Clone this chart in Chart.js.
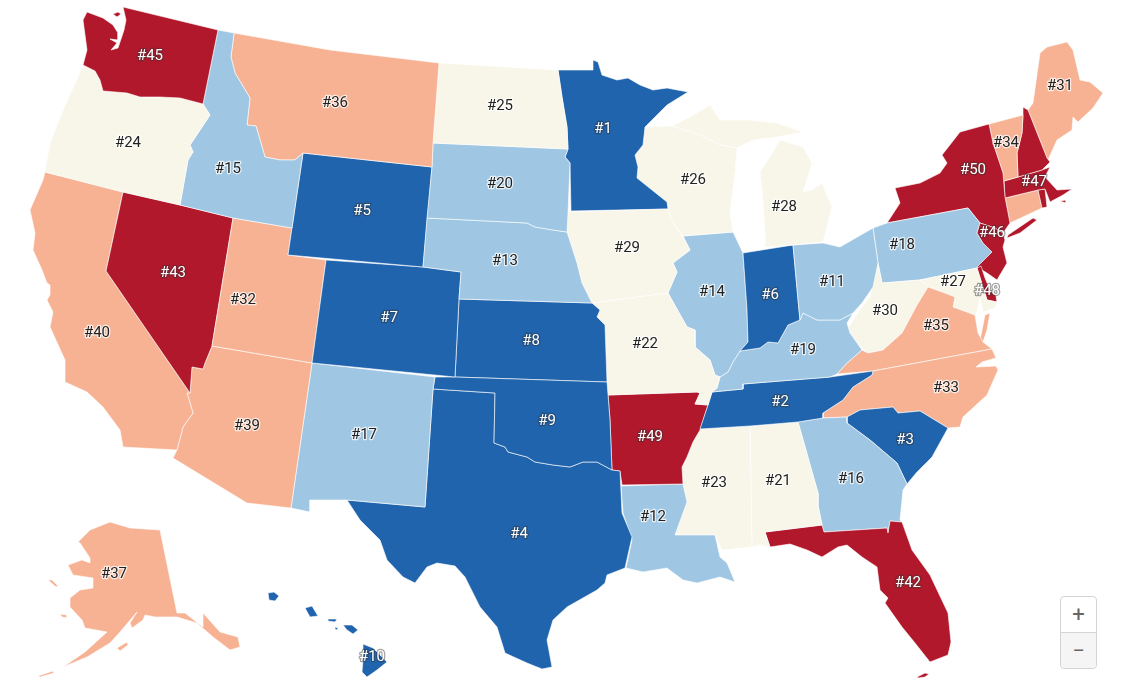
<!DOCTYPE html>
<html>
<head>
<meta charset="utf-8">
<title>US states ranking map</title>
<script src="https://cdn.jsdelivr.net/npm/chart.js@4"></script>
<style>
  html, body { margin: 0; padding: 0; background: #fff; }
  #wrap { position: relative; width: 1126px; height: 688px; overflow: hidden; }
  #zoom-box {
    position: absolute; left: 1060px; top: 596px; width: 35px; height: 71px;
    border: 1px solid #d4d4d4; border-radius: 4px; background: #fff;
    font-family: Roboto, sans-serif; color: #666; text-align: center;
  }
  #zoom-box div { height: 35px; line-height: 35px; font-size: 22px; }
  #zoom-box .minus { background: #f5f5f5; border-top: 1px solid #d4d4d4; border-radius: 0 0 4px 4px; }
</style>
</head>
<body>
<div id="wrap">
  <canvas id="mapChart" width="1126" height="688"></canvas>
  <div id="zoom-box"><div>+</div><div class="minus">−</div></div>
</div>
<script>
// outlines in the map's own units
const WA = [[[87,12],[103,18],[113,25],[118,33],[118,40],[110,39],[117,43],[111,50],[118,48],[124,30],[126,20],[123,7],[218,30],[203,104],[180,98],[160,97],[140,97],[127,93],[103,91],[100,80],[95,71],[83,65],[87,50],[83,20]],
  [[113,14],[118,12],[121,14],[117,17]]];
const OR = [[[83,66],[95,71],[100,80],[103,91],[127,93],[140,97],[160,97],[180,98],[203,104],[210,115],[190,145],[193,152],[188,160],[180,205],[123,192],[45,172],[50,143],[63,110]]];
const ID = [[[218,30],[234,33],[231,57],[235,73],[250,98],[247,125],[256,126],[265,157],[280,160],[295,160],[303,153],[292,228],[233,218],[180,205],[188,160],[193,152],[190,145],[210,115],[203,104]]];
const MT = [[[234,33],[330,50],[439,63],[433,143],[432,167],[303,153],[295,160],[280,160],[265,157],[256,126],[247,125],[250,98],[235,73],[231,57]]];
const ND = [[[439,63],[558,70],[562,97],[567,127],[568,149],[433,143]]];
const SD = [[[433,143],[568,149],[565,157],[570,163],[568,213],[567,232],[553,230],[535,227],[527,223],[427,218],[432,167]]];
const NE = [[[427,218],[527,223],[535,227],[553,230],[567,232],[577,263],[582,283],[592,303],[459,299],[461,272],[423,267]]];
const WY = [[[303,153],[432,167],[423,267],[288,255]]];
const CO = [[[326,260],[423,267],[461,272],[459,299],[455,377],[312,363]]];
const UT = [[[233,218],[292,228],[288,255],[326,260],[312,363],[212,346]]];
const NV = [[[123,192],[180,205],[233,218],[212,346],[205,363],[203,369],[192,367],[190,393],[106,271]]];
const CA = [[[45,172],[123,192],[106,271],[190,393],[187,393],[193,413],[183,427],[177,450],[123,447],[120,430],[103,407],[87,392],[65,382],[65,360],[50,327],[53,312],[47,300],[50,295],[50,285],[47,283],[42,270],[33,250],[35,233],[30,210],[43,180]]];
const AZ = [[[212,346],[312,363],[291,508],[247,503],[173,458],[177,450],[183,427],[193,413],[187,393],[190,393],[192,367],[203,369],[205,363]]];
const NM = [[[312,363],[435,377],[433,389],[425,507],[347,500],[310,500],[310,512],[291,508]]];
const OK = [[[435,377],[455,377],[607,382],[610,420],[612,470],[597,462],[583,462],[570,467],[553,465],[535,462],[527,457],[508,452],[505,447],[494,443],[495,393],[433,389]]];
const TX = [[[433,389],[495,393],[494,443],[505,447],[508,452],[527,457],[535,462],[553,465],[570,467],[583,462],[597,462],[612,470],[620,471],[622,513],[632,537],[625,568],[607,575],[605,583],[597,590],[567,607],[553,620],[547,640],[552,667],[542,669],[527,663],[505,653],[497,627],[480,607],[465,577],[455,566],[437,563],[427,567],[415,583],[403,577],[387,560],[380,540],[360,520],[347,500],[425,507]]];
const KS = [[[459,299],[592,303],[600,310],[597,317],[605,325],[607,382],[455,377]]];
const MO = [[[592,303],[668,293],[687,327],[695,330],[695,347],[710,360],[715,375],[720,377],[717,388],[712,392],[708,405],[695,404],[700,393],[697,392],[608,395],[607,382],[605,325],[597,317],[600,310]]];
const IA = [[[568,212],[668,209],[672,222],[683,237],[690,250],[673,263],[677,272],[668,293],[592,303],[582,283],[577,263],[567,232]]];
const MN = [[[558,70],[593,70],[593,60],[598,62],[602,75],[617,80],[628,78],[640,85],[653,90],[667,88],[688,92],[667,105],[645,127],[643,145],[635,155],[638,167],[637,178],[652,190],[667,202],[668,209],[571,211],[570,163],[565,157],[568,149],[567,127],[562,97]]];
const WI = [[[645,127],[672,126],[700,135],[720,145],[737,148],[735,173],[730,213],[733,232],[683,236],[672,222],[668,209],[667,202],[652,190],[637,178],[638,167],[635,155],[643,145]]];
const MI = [[[765,247],[793,245],[823,242],[832,207],[822,183],[812,190],[803,192],[812,163],[803,147],[780,140],[768,160],[760,172],[763,200],[765,235]],
  [[672,126],[690,117],[710,105],[720,120],[750,120],[777,123],[803,132],[777,137],[753,140],[737,148],[720,145],[700,135]]];
const OH = [[[793,245],[823,243],[840,247],[873,228],[878,263],[873,287],[862,303],[853,313],[840,320],[817,320],[803,313],[800,320],[799,310]]];
const IN = [[[743,253],[793,245],[799,310],[800,320],[788,325],[778,343],[768,342],[760,348],[740,351],[748,342],[747,310]]];
const IL = [[[683,236],[733,232],[743,253],[747,310],[748,342],[740,351],[733,362],[728,372],[720,377],[715,375],[710,360],[695,347],[695,330],[687,327],[668,293],[677,272],[673,263],[690,250]]];
const KY = [[[717,388],[720,377],[728,372],[733,362],[740,351],[760,348],[768,342],[778,343],[788,325],[800,320],[803,313],[817,320],[840,320],[853,313],[847,323],[850,333],[862,350],[847,363],[837,374],[830,377],[743,384],[743,389],[712,392]]];
const TN = [[[712,392],[743,389],[743,384],[830,377],[873,371],[872,375],[853,387],[843,400],[823,413],[823,418],[798,422],[750,426],[700,429],[708,405]]];
const AR = [[[608,395],[697,392],[700,393],[695,404],[708,405],[700,430],[693,442],[687,457],[682,467],[683,484],[622,485],[620,471],[612,470],[610,420]]];
const LA = [[[621,486],[683,484],[687,502],[675,535],[715,535],[720,557],[727,563],[735,582],[720,577],[697,583],[683,580],[667,568],[643,572],[626,568],[632,540],[623,513]]];
const MS = [[[700,429],[750,426],[752,547],[722,550],[715,535],[675,535],[687,502],[683,484],[682,467],[687,457],[693,442]]];
const AL = [[[750,426],[798,422],[818,493],[818,505],[822,525],[765,532],[770,547],[760,545],[752,547]]];
const FL = [[[765,532],[822,525],[824,532],[887,528],[888,533],[890,521],[902,522],[912,550],[930,575],[948,613],[951,642],[948,655],[930,662],[915,643],[902,627],[885,603],[888,598],[880,590],[877,567],[862,557],[847,545],[838,547],[822,557],[807,550],[790,544],[770,547]],
  [[917,677],[925,673],[929,674],[925,677],[918,678]]];
const GA = [[[798,422],[823,418],[847,417],[847,423],[870,440],[897,463],[907,484],[903,490],[900,520],[902,522],[890,521],[888,533],[887,528],[824,532],[822,525],[818,505],[818,493]]];
const SC = [[[847,423],[847,417],[860,410],[893,407],[898,413],[920,411],[948,428],[932,457],[917,472],[907,484],[897,463],[870,440]]];
const NC = [[[873,371],[992,349],[996,358],[982,362],[976,367],[996,366],[998,370],[987,395],[963,417],[960,427],[948,428],[920,411],[898,413],[893,407],[860,410],[847,417],[823,418],[823,413],[843,400],[853,387],[872,375]]];
const VA = [[[837,374],[847,363],[862,350],[868,353],[883,350],[902,333],[917,305],[928,287],[945,293],[955,297],[953,307],[975,315],[978,333],[983,342],[992,349],[873,371]],
  [[985,315],[990,313],[987,330],[983,342],[980,340]]];
const WV = [[[848,328],[860,310],[870,297],[878,263],[882,283],[920,280],[923,282],[928,287],[917,305],[902,333],[883,350],[868,353],[853,340]]];
const MD = [[[920,280],[977,268],[987,300],[997,302],[995,308],[983,312],[980,298],[977,312],[975,315],[953,307],[955,297],[945,293],[928,287],[923,282]]];
const DE = [[[977,268],[981,266],[985,278],[990,290],[996,296],[997,302],[987,300]]];
const NJ = [[[980,223],[995,228],[1003,233],[1005,240],[1003,247],[1007,263],[997,280],[987,273],[977,267],[992,252],[983,243],[977,233]]];
const PA = [[[873,228],[887,223],[968,208],[980,223],[977,233],[983,243],[992,252],[977,268],[920,280],[882,283],[878,263]]];
const NY = [[[887,223],[900,203],[895,188],[920,183],[940,173],[947,163],[942,155],[960,132],[989,124],[993,143],[1003,173],[1005,197],[1010,223],[1003,233],[995,228],[980,223],[968,208]],
  [[1008,235],[1033,218],[1037,220],[1020,233],[1007,238]]];
const VT = [[[989,124],[1023,115],[1022,133],[1017,153],[1018,177],[1004,181],[1003,173],[993,143]]];
const NH = [[[1023,107],[1028,110],[1047,158],[1050,162],[1042,170],[1018,177],[1017,153],[1022,133],[1023,115]]];
const ME = [[[1028,110],[1033,103],[1040,53],[1047,47],[1067,42],[1073,50],[1080,80],[1090,82],[1103,93],[1093,108],[1078,122],[1073,117],[1072,130],[1057,140],[1048,160],[1047,158]]];
const MA = [[[1004,181],[1018,177],[1042,170],[1050,167],[1045,177],[1057,190],[1072,189],[1063,195],[1050,202],[1045,189],[1038,190],[1005,198]],
  [[1060,201],[1066,200],[1066,203]]];
const RI = [[[1038,190],[1045,189],[1047,207],[1042,208]]];
const CT = [[[1005,198],[1038,190],[1042,208],[1010,223],[1009,223]]];
const AK = [[[78,542],[90,530],[110,522],[130,528],[160,530],[177,613],[185,613],[203,627],[203,613],[220,632],[238,637],[240,647],[230,650],[213,637],[197,623],[177,617],[155,617],[145,615],[143,620],[132,628],[130,623],[137,612],[120,632],[110,643],[87,657],[63,667],[85,652],[107,632],[85,628],[82,620],[70,607],[70,598],[80,590],[93,588],[93,578],[73,575],[68,565],[82,560],[90,563],[90,558],[80,543]],
  [[117,648],[127,642],[128,645],[120,651]],
  [[60,614],[67,615],[67,618],[62,617]],
  [[48,580],[52,580],[58,586],[56,587]],
  [[38,676],[53,671],[54,673],[40,677]]];
const HI = [[[268,593],[274,592],[279,596],[275,601],[269,600]],
  [[305,608],[312,606],[318,616],[310,617]],
  [[328,619],[337,619],[335,622],[328,621]],
  [[335,627],[338,628],[337,630],[335,629]],
  [[343,625],[352,625],[358,630],[353,634],[347,630]],
  [[363,644],[373,648],[387,662],[377,670],[367,677],[362,672],[363,660]]];

const stateOutlines = [WA,OR,ID,MT,ND,SD,NE,WY,CO,UT,NV,CA,AZ,NM,OK,TX,KS,MO,IA,MN,WI,MI,OH,IN,IL,KY,TN,AR,LA,MS,AL,FL,GA,SC,NC,VA,WV,MD,DE,NJ,PA,NY,VT,NH,ME,MA,RI,CT,AK,HI];
const stateNames = ['WA','OR','ID','MT','ND','SD','NE','WY','CO','UT','NV','CA','AZ','NM','OK','TX','KS','MO','IA','MN','WI','MI','OH','IN','IL','KY','TN','AR','LA','MS','AL','FL','GA','SC','NC','VA','WV','MD','DE','NJ','PA','NY','VT','NH','ME','MA','RI','CT','AK','HI'];
const stateRanks = [45,24,15,36,25,20,13,5,7,32,43,40,39,17,9,4,8,22,29,1,26,28,11,6,14,19,2,49,12,23,21,42,16,3,33,35,30,27,48,46,18,50,34,44,31,47,41,38,37,10];
// label anchors, null = no label on the map
const labelX = [150,128,228,335,500,500,505,362,389,243,173,97,247,364,547,519,531,645,627,603,693,784,832,770,712,803,780,650,653,714,778,908,851,905,946,936,885,953,987,992,902,973,1006,null,1060,1034,null,null,114,372];
const labelY = [56,143,169,103,106,184,261,211,318,300,273,333,426,435,421,534,341,344,248,129,180,207,282,295,292,350,402,437,517,483,481,583,479,440,388,326,311,282,291,233,245,170,143,null,86,182,null,null,574,657];

const rankColors = ['#2064ae','#9fc6e2','#f8f5e9','#f6b293','#b2182b'];

function colorFor(rank) {
  return rankColors[Math.floor((rank - 1) / 10)];
}

const datasets = [];
stateOutlines.forEach((parts, i) => {
  parts.forEach(part => {
    const pts = part.map(p => ({ x: p[0], y: p[1] }));
    pts.push(pts[0]);
    datasets.push({
      label: stateNames[i],
      data: pts,
      fill: 'shape',
      backgroundColor: colorFor(stateRanks[i]),
      borderColor: 'rgba(255,255,255,0.6)',
      borderWidth: 1,
      pointRadius: 0,
      tension: 0
    });
  });
});

// rank labels go through the chart's scales
const rankLabels = {
  id: 'rankLabels',
  afterDatasetsDraw(chart) {
    const c = chart.ctx;
    const xs = chart.scales.x, ys = chart.scales.y;
    c.save();
    c.font = '15px Roboto';
    c.textAlign = 'center';
    c.textBaseline = 'middle';
    c.lineJoin = 'round';
    stateRanks.forEach((rank, i) => {
      if (labelX[i] === null) return;
      const light = rank <= 10 || rank > 40;
      const px = xs.getPixelForValue(labelX[i]), py = ys.getPixelForValue(labelY[i]);
      const txt = '#' + rank;
      c.lineWidth = 2.5;
      c.strokeStyle = light ? 'rgba(50,50,50,0.45)' : 'rgba(255,255,255,0.75)';
      c.strokeText(txt, px, py);
      c.fillStyle = light ? '#ffffff' : '#222222';
      c.fillText(txt, px, py);
    });
    c.restore();
  }
};

const ctx = document.getElementById('mapChart').getContext('2d');
new Chart(ctx, {
  type: 'line',
  data: { datasets: datasets },
  options: {
    responsive: false,
    animation: false,
    layout: { padding: 0 },
    plugins: { legend: { display: false }, tooltip: { enabled: false } },
    scales: {
      x: { type: 'linear', min: 0, max: 1126, display: false },
      y: { type: 'linear', min: 0, max: 688, reverse: true, display: false }
    }
  },
  plugins: [rankLabels]
});
</script>
</body>
</html>
